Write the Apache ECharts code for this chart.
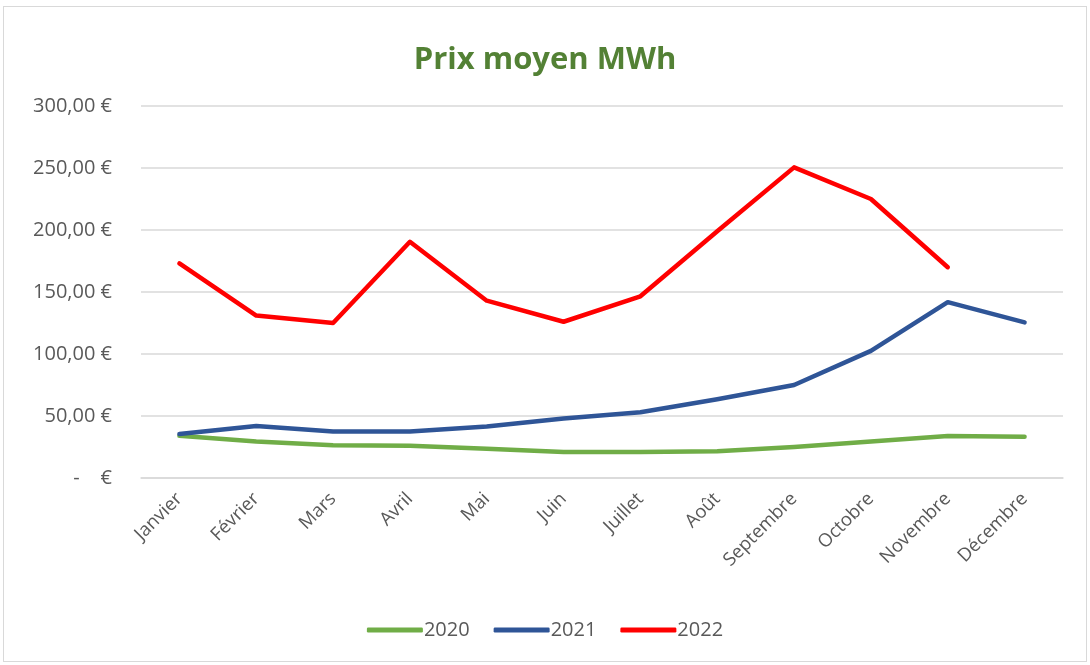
<!DOCTYPE html>
<html>
<head>
<meta charset="utf-8">
<script src="https://cdn.jsdelivr.net/npm/echarts@6/dist/echarts.min.js"></script>
<style>
  html, body { margin: 0; padding: 0; background: #fff; }
  #frame {
    position: absolute; left: 3px; top: 6px; width: 1084px; height: 656px;
    border: 1px solid #d9d9d9; box-sizing: border-box;
  }
  #chart { position: absolute; left: 0; top: 0; width: 1090px; height: 665px; }
</style>
</head>
<body>
<div id="frame"></div>
<div id="chart"></div>
<script>
const months = ['Janvier', 'Février', 'Mars', 'Avril', 'Mai', 'Juin', 'Juillet', 'Août', 'Septembre', 'Octobre', 'Novembre', 'Décembre']
const prix2020 = [34, 29.5, 26.5, 26, 23.5, 21, 21, 21.5, 25, 29.5, 33.8, 33.3]
const prix2021 = [35.5, 42, 37.5, 37.5, 41.5, 48, 53, 63.5, 75, 102.5, 141.8, 125.5]
const prix2022 = [173, 131, 125, 190.5, 143, 126, 146.5, 199, 250.5, 225, 170]
const yTicks = [0, 50, 100, 150, 200, 250, 300]

const fmtEuro = function (v) {
  if (v === 0) return '-    €'
  return v.toFixed(2).replace('.', ',') + ' €'
}

const lineSeries = function (name, data, color) {
  return {
    name: name,
    type: 'line',
    data: data,
    symbol: 'none',
    smooth: false,
    lineStyle: { width: 4.5, color: color, cap: 'round', join: 'round' },
    itemStyle: { color: color }
  }
}

const chart = echarts.init(document.getElementById('chart'))
chart.setOption({
  animation: false,
  title: {
    text: 'Prix moyen MWh',
    left: 'center',
    top: 40,
    textStyle: { color: '#538135', fontSize: 31, fontWeight: 'bold', fontFamily: 'Open Sans' }
  },
  legend: {
    bottom: 20,
    left: 'center',
    itemWidth: 56,
    itemHeight: 5,
    itemGap: 24,
    icon: 'roundRect',
    textStyle: { color: '#595959', fontSize: 20, fontFamily: 'Open Sans', padding: [0, 0, 0, -4] },
    data: ['2020', '2021', '2022']
  },
  grid: { left: 141, top: 106, width: 922, height: 372, containLabel: false },
  xAxis: {
    type: 'category',
    data: months,
    boundaryGap: true,
    axisLine: { show: true, lineStyle: { color: '#d9d9d9', width: 1.5 } },
    axisTick: { show: false },
    axisLabel: { rotate: 45, color: '#595959', fontSize: 18.5, fontFamily: 'Open Sans', margin: 18 }
  },
  yAxis: {
    type: 'value',
    min: yTicks[0],
    max: yTicks[yTicks.length - 1],
    interval: 50,
    axisLine: { show: false },
    axisTick: { show: false },
    splitLine: { lineStyle: { color: '#d9d9d9', width: 1.5 } },
    axisLabel: { color: '#595959', fontSize: 20, fontFamily: 'Open Sans', margin: 29, formatter: fmtEuro }
  },
  series: [
    lineSeries('2020', prix2020, '#70ad47'),
    lineSeries('2021', prix2021, '#2f5597'),
    lineSeries('2022', prix2022, '#ff0000')
  ]
})
</script>
</body>
</html>
